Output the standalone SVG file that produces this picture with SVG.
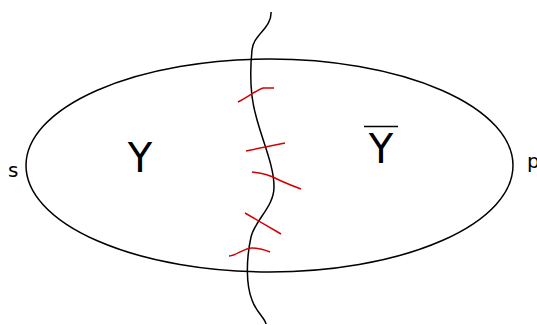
<svg xmlns="http://www.w3.org/2000/svg" width="537" height="325" viewBox="0 0 537 325">
<style>
.k{fill:none;stroke:#000;stroke-width:1.5}
.r{fill:none;stroke:#d40000;stroke-width:1.5}
text{font-family:"DejaVu Sans",sans-serif;fill:#000}
</style>
<rect width="537" height="325" fill="#fff"/>
<g id="region">
<ellipse class="k" cx="269.5" cy="165.5" rx="243.5" ry="106.5"/>
</g>
<g id="labels">
<text x="8" y="177" font-size="20">s</text>
<text x="527" y="168" font-size="20">p</text>
<text x="140" y="172" font-size="40" text-anchor="middle">Y</text>
<text x="381" y="163" font-size="40" text-anchor="middle">Y</text>
<line x1="364" y1="126.5" x2="398" y2="126.5" stroke="#000" stroke-width="1.5"/>
</g>
<g id="connectors">
<path class="k" d="M271,12 C272,28 253,35 252,50 C250,70 250,95 256,116 C262,140 274,165 274,187 C274,207 255,220 251,237 C246,260 246,285 252,300 C256,312 265,318 266,324"/>
<path class="r" d="M238,102 C248,97 255,91 263,88 L274,88"/>
<path class="r" d="M246,151 L285,143"/>
<path class="r" d="M252,172 C262,173 270,175 277,179 C285,183 293,186 301,189"/>
<path class="r" d="M245,213 L281,234"/>
<path class="r" d="M229,256 C236,256 244,248 252,248 C258,248 265,250 270,252"/>
</g>
</svg>
